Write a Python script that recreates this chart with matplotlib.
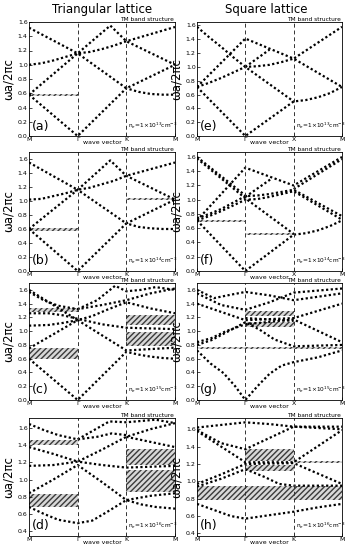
import matplotlib
matplotlib.use("Agg")
import matplotlib.pyplot as plt

plt.rcParams['font.family'] = ['DejaVu Sans']
plt.rcParams['hatch.linewidth'] = 1.0

# band structure data: x = 0 (M), 1 (Gamma), 2 (K/X), 3 (M)
bands_a = [([0, 1, 2, 2.25, 2.5, 2.75, 3], [0.58, 0.0, 0.67, 0.62, 0.59, 0.58, 0.58]),
           ([0, 1, 2, 3], [0.58, 1.16, 0.67, 1.0]),
           ([0, 0.25, 0.5, 0.75, 1, 1.25, 1.5, 1.75, 2, 3], [1.0, 1.02, 1.06, 1.11, 1.16, 1.18, 1.22, 1.27, 1.33, 1.53]),
           ([0, 1, 1.67, 2, 3], [1.52, 1.16, 1.55, 1.33, 1.0])]
bands_b = [([0, 1, 2, 2.25, 2.5, 2.75, 3], [0.60, 0.0, 0.68, 0.63, 0.61, 0.60, 0.60]),
           ([0, 1, 2, 3], [0.60, 1.16, 0.68, 1.02]),
           ([0, 0.25, 0.5, 0.75, 1, 1.25, 1.5, 1.75, 2, 3], [1.02, 1.03, 1.07, 1.11, 1.16, 1.19, 1.24, 1.29, 1.36, 1.55]),
           ([0, 1, 1.67, 2, 3], [1.55, 1.16, 1.58, 1.36, 1.02])]
bands_c = [([0, 1, 2, 2.25, 2.5, 2.75, 3], [0.60, 0.0, 0.70, 0.66, 0.63, 0.61, 0.60]),
           ([0, 1, 2, 2.5, 3], [0.75, 1.16, 0.72, 0.74, 0.76]),
           ([0, 0.4, 0.7, 1, 1.3, 1.6, 2, 2.5, 3], [1.08, 1.09, 1.12, 1.16, 1.22, 1.31, 1.42, 1.33, 1.26]),
           ([0, 0.4, 0.7, 1, 1.5, 2, 3], [1.26, 1.26, 1.23, 1.18, 1.10, 1.05, 1.03]),
           ([0, 1], [1.60, 1.16]),
           ([0, 0.3, 0.6, 1, 1.5, 2, 2.5, 3], [1.57, 1.45, 1.37, 1.32, 1.38, 1.45, 1.55, 1.62]),
           ([1, 1.4, 1.77, 2, 2.3, 2.6, 3], [1.32, 1.45, 1.66, 1.58, 1.60, 1.64, 1.60])]
bands_d = [([0, 0.3, 0.6, 1, 1.3, 1.6, 2, 2.3, 2.6, 3], [0.68, 0.60, 0.53, 0.49, 0.52, 0.62, 0.76, 0.71, 0.68, 0.66]),
           ([0, 0.5, 1, 1.5, 2, 2.5, 3], [0.84, 1.00, 1.17, 0.97, 0.76, 0.81, 0.84]),
           ([0, 0.5, 1, 1.5, 2, 2.5, 3], [1.16, 1.17, 1.21, 1.17, 1.14, 1.15, 1.16]),
           ([0, 0.5, 1, 1.5, 2, 2.5, 3], [1.38, 1.30, 1.21, 1.35, 1.50, 1.59, 1.66]),
           ([2, 3], [1.50, 1.38]),
           ([0, 0.3, 0.6, 1, 1.4, 1.7, 2], [1.65, 1.58, 1.52, 1.47, 1.50, 1.54, 1.52]),
           ([1, 1.65, 2, 2.6, 3], [1.47, 1.68, 1.67, 1.70, 1.66])]
bands_e = [([0, 1, 2, 2.25, 2.5, 2.75, 3], [0.71, 0.0, 0.50, 0.52, 0.56, 0.62, 0.71]),
           ([0, 1, 2, 3], [0.71, 1.41, 1.12, 1.58]),
           ([0, 0.25, 0.5, 0.75, 1, 1.25, 1.5, 1.75, 2, 3], [0.71, 0.77, 0.84, 0.92, 1.0, 1.01, 1.03, 1.07, 1.12, 0.71]),
           ([0, 0.25, 0.5, 0.75, 1, 2], [1.58, 1.43, 1.29, 1.14, 1.0, 0.5]),
           ([1, 1.5], [1.0, 1.25])]
bands_f = [([0, 1, 2, 2.25, 2.5, 2.75, 3], [0.71, 0.0, 0.51, 0.53, 0.57, 0.63, 0.71]),
           ([0, 1, 2, 3], [0.71, 1.45, 1.20, 1.60]),
           ([0, 0.25, 0.5, 0.75, 1, 1.25, 1.5, 1.75, 2, 3], [0.71, 0.77, 0.84, 0.92, 1.0, 1.01, 1.04, 1.08, 1.12, 0.72]),
           ([0, 0.25, 0.5, 0.75, 1, 1.25, 1.5, 1.75, 2, 3], [0.74, 0.80, 0.87, 0.96, 1.05, 1.06, 1.08, 1.11, 1.14, 0.77]),
           ([0, 1, 2], [1.58, 1.02, 0.52]),
           ([0, 1], [1.60, 1.06]),
           ([1, 1.55], [1.04, 1.30]),
           ([2, 3], [1.15, 1.57])]
bands_g = [([0, 0.28, 0.55, 0.79, 1, 1.25, 1.5, 1.75, 2, 2.5, 3], [0.72, 0.53, 0.39, 0.20, 0.0, 0.20, 0.38, 0.50, 0.55, 0.62, 0.72]),
           ([0, 0.3, 0.6, 1, 1.3, 1.6, 2, 2.5, 3], [0.80, 0.87, 0.98, 1.13, 1.02, 0.88, 0.78, 0.79, 0.80]),
           ([0, 0.3, 0.6, 1, 2, 3], [0.84, 0.90, 1.00, 1.10, 1.17, 0.84]),
           ([0, 1, 2, 3], [1.40, 1.16, 1.19, 1.40]),
           ([0, 0.5, 1, 1.5, 2, 3], [1.55, 1.38, 1.31, 1.42, 1.56, 1.62]),
           ([0, 0.35, 0.7, 1, 1.5, 2, 3], [1.60, 1.48, 1.53, 1.57, 1.52, 1.45, 1.55]),
           ([1, 2], [1.19, 1.15])]
bands_h = [([0, 0.35, 0.7, 1, 1.5, 2, 2.5, 3], [0.74, 0.67, 0.60, 0.57, 0.61, 0.65, 0.70, 0.74]),
           ([0, 0.5, 1, 1.4, 1.7, 2, 3], [0.94, 1.03, 1.14, 1.05, 0.97, 0.95, 0.95]),
           ([0, 0.5, 1, 2, 3], [0.97, 1.08, 1.20, 1.21, 0.97]),
           ([0, 1, 2, 3], [1.58, 1.22, 1.22, 1.59]),
           ([0, 0.5, 1, 1.5, 2, 3], [1.59, 1.44, 1.37, 1.50, 1.63, 1.60]),
           ([0, 0.5, 1, 1.5, 2, 3], [1.62, 1.65, 1.68, 1.66, 1.63, 1.63])]

# band gaps (x0, x1, y0, y1)
gaps_a = [(0, 1, 0.56, 0.59)]
gaps_b = [(0, 1, 0.57, 0.62), (2, 3, 1.01, 1.04)]
gaps_c = [(0, 1, 0.60, 0.75), (0, 1, 1.28, 1.33), (2, 3, 0.78, 0.99), (2, 3, 1.09, 1.24)]
gaps_d = [(0, 1, 0.68, 0.83), (0, 1, 1.40, 1.46), (2, 3, 0.86, 1.11), (2, 3, 1.17, 1.36)]
gaps_e = []
gaps_f = [(0, 1, 0.69, 0.71), (1, 2, 0.50, 0.53)]
gaps_g = [(0, 3, 0.74, 0.77), (1, 2, 1.06, 1.14), (1, 2, 1.22, 1.29)]
gaps_h = [(0, 3, 0.78, 0.95), (1, 2, 1.12, 1.19), (1, 2, 1.24, 1.37), (2, 3, 1.21, 1.23)]

letters = ['a', 'b', 'c', 'd', 'e', 'f', 'g', 'h']
densities = ['13', '14', '15', '16', '13', '14', '15', '16']
ylims = [(0, 1.6), (0, 1.7), (0, 1.7), (0.34, 1.72), (0, 1.65), (0, 1.67), (0, 1.7), (0.37, 1.73)]
xlabels = [['M', 'Γ', 'K', 'M']] * 4 + [['M', 'Γ', 'X', 'M']] * 3 + [['M', 'Γ', 'K', 'M']]
all_bands = [bands_a, bands_b, bands_c, bands_d, bands_e, bands_f, bands_g, bands_h]
all_gaps = [gaps_a, gaps_b, gaps_c, gaps_d, gaps_e, gaps_f, gaps_g, gaps_h]

W, H = 356, 550
fig = plt.figure(figsize=(W / 100, H / 100), dpi=100)
cols = [(29, 146), (197, 145)]
rows = [(22, 136), (152, 271), (283, 400), (418, 536)]

for i in range(8):
    col = cols[i // 4]
    row = rows[i % 4]
    ax = fig.add_axes([col[0] / W, 1 - row[1] / H, col[1] / W, (row[1] - row[0]) / H])
    for x0, x1, y0, y1 in all_gaps[i]:
        ax.fill_between([x0, x1], y0, y1, facecolor='#d8d8d8', edgecolor='#3a3a3a',
                        hatch='//////', linewidth=0)
    for xs, ys in all_bands[i]:
        ax.plot(xs, ys, color='black', linestyle=(0, (1, 1.1)), linewidth=1.6)
    for xv in [1, 2]:
        ax.axvline(xv, color='#333333', linestyle=(0, (4, 3)), linewidth=0.7)
    ax.set_xlim(0, 3)
    ax.set_ylim(*ylims[i])
    lo = 0.4 if ylims[i][0] > 0.2 else 0.0
    ax.set_yticks([round(lo + 0.2 * k, 1) for k in range(int(round((1.6 - lo) / 0.2)) + 1)])
    ax.set_xticks([0, 1, 2, 3])
    ax.set_xticklabels(xlabels[i])
    ax.tick_params(direction='in', length=2, width=0.5, labelsize=4.5, pad=1)
    for s in ax.spines.values():
        s.set_linewidth(0.6)
    ax.set_ylabel('ωa/2πc', fontsize=8.5, labelpad=2)
    ax.text(0.02, 0.03, '(%s)' % letters[i], transform=ax.transAxes, fontsize=9,
            ha='left', va='bottom')
    ax.text(0.68, 0.04, r'n$_e$=1×10$^{%s}$cm$^{-3}$' % densities[i], transform=ax.transAxes,
            fontsize=4.2, ha='left', va='bottom')
    ax.text(0.99, 1.0, 'TM band structure', transform=ax.transAxes, fontsize=4.2,
            ha='right', va='bottom')
    ax.text(1.5, -0.035, 'wave vector', transform=ax.get_xaxis_transform(), fontsize=4.5,
            ha='center', va='top')

fig.text(102 / W, 1 - 9 / H, 'Triangular lattice', fontsize=8.5, ha='center', va='center')
fig.text(266 / W, 1 - 9 / H, 'Square lattice', fontsize=8.5, ha='center', va='center')

fig.savefig('out.png', dpi=100)
